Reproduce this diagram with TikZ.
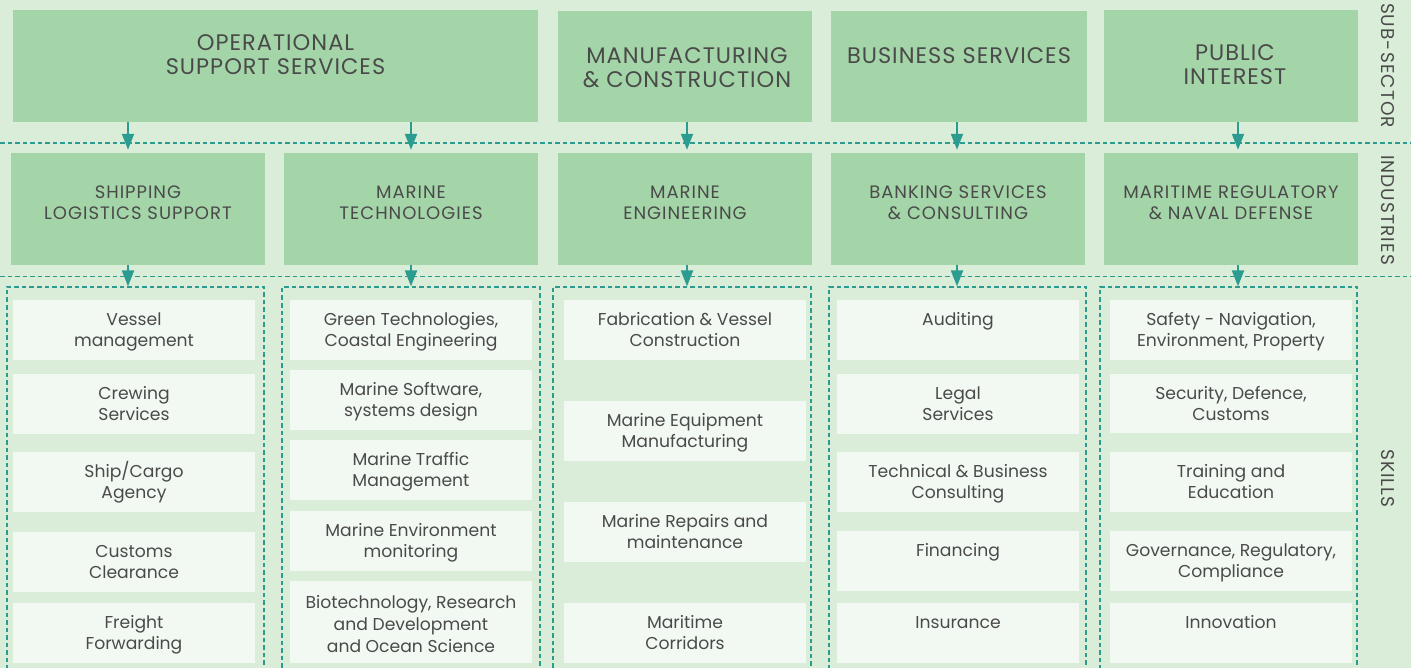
\documentclass[tikz,border=0pt]{standalone}
\usepackage{fontspec}
\setmainfont{Poppins}
\newfontfamily\topcaps{Poppins}[LetterSpace=4.5]
\newfontfamily\midcaps{Poppins}[LetterSpace=5.5]
\newfontfamily\sidecaps{Poppins}[LetterSpace=5.8]
\usetikzlibrary{arrows.meta}

\definecolor{bggreen}{HTML}{DAEDD8}
\definecolor{secgreen}{HTML}{A4D5A8}
\definecolor{skillfill}{HTML}{F2F9F2}
\definecolor{tealc}{HTML}{2C9C91}
\definecolor{ink}{HTML}{4A4A4A}

% box placed by its corners (x1,y1) -- (x2,y2), y growing downwards
\newcommand\placebox[6]{%
  \node[#1, minimum width={#5-#3}, minimum height={#6-#4}] (#2)
    at ({(#3+#5)/2},{(#4+#6)/2}) {};}
% centred lines whose first baseline sits #4 below the top of box #3
\newcommand\boxtext[5][]{%
  \node[#2, anchor=base, #1] (#3-t) at ([yshift=-#4pt]#3.north)
    {\begin{tabular}[t]{@{}c@{}}#5\end{tabular}};}

\tikzset{
  sector/.style={fill=secgreen, draw=none, inner sep=0pt},
  skillbox/.style={fill=skillfill, draw=none, inner sep=0pt},
  frame/.style={draw=tealc, line width=1.2pt, dash pattern=on 4.5pt off 3pt, inner sep=0pt},
  divider/.style={draw=tealc, line width=1.2pt, dash pattern=on 4.5pt off 3pt},
  arr/.style={draw=tealc, line width=2pt, -{Triangle[width=12pt,length=16pt]}},
  toptxt/.style={text=ink, inner sep=0pt, font=\topcaps\fontsize{22.5}{23.5}\selectfont},
  midtxt/.style={text=ink, inner sep=0pt, font=\midcaps\fontsize{18}{21}\selectfont},
  skilltxt/.style={text=ink, inner sep=0pt, font=\fontsize{17.2}{21.6}\selectfont},
  sidetxt/.style={text=ink, inner sep=0pt, rotate=-90, font=\sidecaps\fontsize{18.5}{20}\selectfont},
}

\begin{document}
\begin{tikzpicture}[x=1pt, y=-1pt]
\useasboundingbox (0,0) rectangle (1411,668);
\fill[bggreen] (0,0) rectangle (1411,668);

\begin{scope}
\clip (0,0) rectangle (1411,668);

% dashed dividers between the tiers
\coordinate (d1l) at (0,143);   \coordinate (d1r) at (1411,143);
\coordinate (d2l) at (0,276.5); \coordinate (d2r) at (1411,276.5);
\draw[divider] (d1l) -- (d1r);
\draw[divider] (d2l) -- (d2r);

% sub-sectors
\placebox{sector}{ops}{13}{10}{538}{122}
\placebox{sector}{mfg}{558}{11}{812}{122}
\placebox{sector}{bus}{831}{11}{1087}{122}
\placebox{sector}{pub}{1104}{10}{1358}{122}
\boxtext{toptxt}{ops}{41}{OPERATIONAL\\SUPPORT SERVICES}
\boxtext[xshift=2pt]{toptxt}{mfg}{53}{MANUFACTURING\\\& CONSTRUCTION}
\boxtext{toptxt}{bus}{53}{BUSINESS SERVICES}
\boxtext[xshift=4pt]{toptxt}{pub}{51}{PUBLIC\\INTEREST}

% industries
\placebox{sector}{ship}{11}{153}{265}{265}
\placebox{sector}{mtech}{284}{153}{538}{265}
\placebox{sector}{meng}{558}{153}{812}{265}
\placebox{sector}{bank}{831}{153}{1085}{265}
\placebox{sector}{regu}{1104}{153}{1358}{265}
\boxtext{midtxt}{ship}{45.5}{SHIPPING\\LOGISTICS SUPPORT}
\boxtext{midtxt}{mtech}{45.5}{MARINE\\TECHNOLOGIES}
\boxtext{midtxt}{meng}{45.5}{MARINE\\ENGINEERING}
\boxtext{midtxt}{bank}{45.5}{BANKING SERVICES\\\& CONSULTING}
\boxtext{midtxt}{regu}{45.5}{MARITIME REGULATORY\\\& NAVAL DEFENSE}

% skill groups
\placebox{frame}{fa}{7}{287}{264}{700}
\placebox{frame}{fb}{282}{287}{540}{700}
\placebox{frame}{fc}{553}{287}{811}{700}
\placebox{frame}{fd}{829}{287}{1086}{700}
\placebox{frame}{fe}{1100}{287}{1357}{700}

% skills: shipping logistics support
\placebox{skillbox}{a1}{13}{300}{255}{360}
\placebox{skillbox}{a2}{13}{374}{255}{434}
\placebox{skillbox}{a3}{13}{452}{255}{512}
\placebox{skillbox}{a4}{13}{532}{255}{592}
\placebox{skillbox}{a5}{13}{603}{255}{663}
\boxtext{skilltxt}{a1}{25.5}{Vessel\\management}
\boxtext{skilltxt}{a2}{25.5}{Crewing\\Services}
\boxtext{skilltxt}{a3}{25.5}{Ship/Cargo\\Agency}
\boxtext{skilltxt}{a4}{25.5}{Customs\\Clearance}
\boxtext{skilltxt}{a5}{25.5}{Freight\\Forwarding}

% skills: marine technologies
\placebox{skillbox}{b1}{290}{300}{532}{360}
\placebox{skillbox}{b2}{290}{370}{532}{430}
\placebox{skillbox}{b3}{290}{440}{532}{500}
\placebox{skillbox}{b4}{290}{511}{532}{571}
\placebox{skillbox}{b5}{290}{581}{532}{663}
\boxtext{skilltxt}{b1}{25.5}{Green Technologies,\\Coastal Engineering}
\boxtext{skilltxt}{b2}{25.5}{Marine Software,\\systems design}
\boxtext{skilltxt}{b3}{25.5}{Marine Traffic\\Management}
\boxtext{skilltxt}{b4}{25.5}{Marine Environment\\monitoring}
\boxtext{skilltxt}{b5}{28}{Biotechnology, Research\\and Development\\and Ocean Science}

% skills: marine engineering
\placebox{skillbox}{c1}{564}{300}{806}{360}
\placebox{skillbox}{c2}{564}{401}{806}{461}
\placebox{skillbox}{c3}{564}{502}{806}{562}
\placebox{skillbox}{c4}{564}{603}{806}{663}
\boxtext{skilltxt}{c1}{25.5}{Fabrication \& Vessel\\Construction}
\boxtext{skilltxt}{c2}{25.5}{Marine Equipment\\Manufacturing}
\boxtext{skilltxt}{c3}{25.5}{Marine Repairs and\\maintenance}
\boxtext{skilltxt}{c4}{25.5}{Maritime\\Corridors}

% skills: banking services & consulting
\placebox{skillbox}{e1}{837}{300}{1079}{360}
\placebox{skillbox}{e2}{837}{374}{1079}{434}
\placebox{skillbox}{e3}{837}{452}{1079}{512}
\placebox{skillbox}{e4}{837}{531}{1079}{591}
\placebox{skillbox}{e5}{837}{603}{1079}{663}
\boxtext{skilltxt}{e1}{25.5}{Auditing}
\boxtext{skilltxt}{e2}{25.5}{Legal\\Services}
\boxtext{skilltxt}{e3}{25.5}{Technical \& Business\\Consulting}
\boxtext{skilltxt}{e4}{25.5}{Financing}
\boxtext{skilltxt}{e5}{25.5}{Insurance}

% skills: maritime regulatory & naval defense
\placebox{skillbox}{g1}{1110}{300}{1352}{360}
\placebox{skillbox}{g2}{1110}{374}{1352}{433}
\placebox{skillbox}{g3}{1110}{452}{1352}{512}
\placebox{skillbox}{g4}{1110}{531}{1352}{591}
\placebox{skillbox}{g5}{1110}{603}{1352}{663}
\boxtext{skilltxt}{g1}{25.5}{Safety - Navigation,\\Environment, Property}
\boxtext{skilltxt}{g2}{25.5}{Security, Defence,\\Customs}
\boxtext{skilltxt}{g3}{25.5}{Training and\\Education}
\boxtext{skilltxt}{g4}{25.5}{Governance, Regulatory,\\Compliance}
\boxtext{skilltxt}{g5}{25.5}{Innovation}

% arrow columns
\coordinate (xa) at (128,0);
\coordinate (xb) at (411,0);
\coordinate (xc) at (687,0);
\coordinate (xd) at (957,0);
\coordinate (xe) at (1238,0);

\draw[arr, shorten >=3pt] (ops.south -| xa) -- (ship.north -| xa);
\draw[arr, shorten >=3pt] (ops.south -| xb) -- (mtech.north -| xb);
\draw[arr, shorten >=3pt] (mfg.south -| xc) -- (meng.north -| xc);
\draw[arr, shorten >=3pt] (bus.south -| xd) -- (bank.north -| xd);
\draw[arr, shorten >=3pt] (pub.south -| xe) -- (regu.north -| xe);

\draw[arr] (ship.south -| xa) -- (fa.north -| xa);
\draw[arr] (mtech.south -| xb) -- (fb.north -| xb);
\draw[arr] (meng.south -| xc) -- (fc.north -| xc);
\draw[arr] (bank.south -| xd) -- (fd.north -| xd);
\draw[arr] (regu.south -| xe) -- (fe.north -| xe);

% tier names
\node[sidetxt] (lsub) at (1387.5,65.5) {SUB-SECTOR};
\node[sidetxt] (lind) at (1387.5,210) {INDUSTRIES};
\node[sidetxt] (lskl) at (1387.5,478.5) {SKILLS};
\end{scope}
\end{tikzpicture}
\end{document}
